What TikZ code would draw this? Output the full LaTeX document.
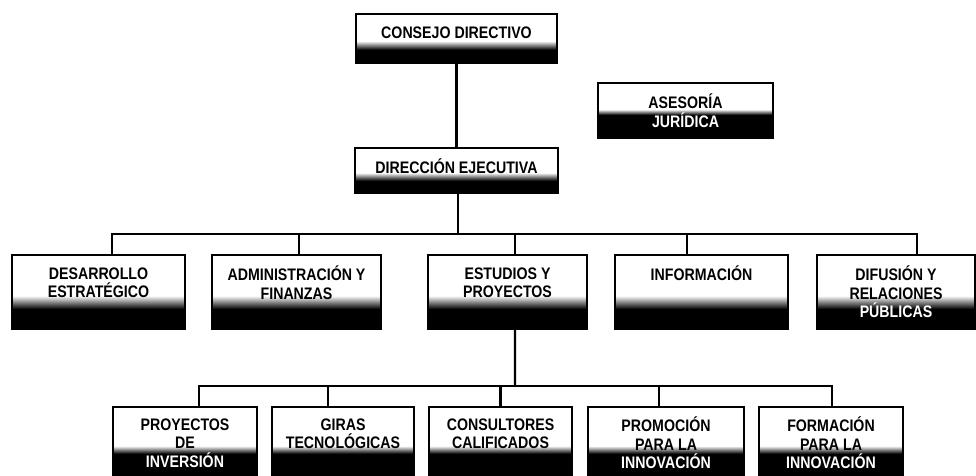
\documentclass[tikz,border=0pt]{standalone}
\usepackage{fontspec}
\setmainfont{Liberation Sans}[FakeStretch=0.85]
\usepackage{xcolor}
\usetikzlibrary{positioning,calc}
\pgfdeclareverticalshading{inkfill}{100bp}{color(0bp)=(black); color(38.5bp)=(black); color(47.5bp)=(white); color(100bp)=(white)}
\pgfdeclareverticalshading{inkhigh}{100bp}{color(0bp)=(black); color(46bp)=(black); color(51bp)=(white); color(100bp)=(white)}
\pgfdeclareverticalshading{inkmid}{100bp}{color(0bp)=(black); color(42.5bp)=(black); color(48bp)=(white); color(100bp)=(white)}
\tikzset{orgbox/.style={draw, line width=1.1pt, shade, shading=inkfill, align=center, inner sep=0pt,
  font=\fontsize{9.5}{10.5}\selectfont\bfseries},
  highbox/.style={orgbox, shading=inkhigh},
  unitbox/.style={orgbox, shading=inkmid, minimum height=1.44cm},
  link/.style={line width=1.2pt}}

\begin{document}
\begin{tikzpicture}[x=0.02cm, y=-0.02cm]
\path[use as bounding box, clip] (0,0) rectangle (976,476);
\node[orgbox, minimum width=4.02cm, minimum height=0.98cm, text depth=0.25cm] (consejo) at (456.5,38.5) {CONSEJO DIRECTIVO};
\node[highbox, minimum width=3.50cm, minimum height=1.10cm] (asesoria) at (685.5,110.5) {ASESORÍA\\\textcolor{white}{JURÍDICA}};
\node[orgbox, minimum width=4.06cm, minimum height=0.90cm, text depth=0.17cm] (direccion) at (456.5,170.5) {DIRECCIÓN EJECUTIVA};
\node[orgbox, minimum width=3.46cm, minimum height=1.48cm] (desarrollo) at (98.5,292) {DESARROLLO\\ESTRATÉGICO\\~};
\node[orgbox, minimum width=3.38cm, minimum height=1.48cm] (admin) at (296.5,292) {ADMINISTRACIÓN Y\\FINANZAS\\~};
\node[orgbox, minimum width=3.18cm, minimum height=1.48cm] (estudios) at (507.5,292) {ESTUDIOS Y\\PROYECTOS\\~};
\node[orgbox, minimum width=3.46cm, minimum height=1.48cm] (info) at (701.5,292) {INFORMACIÓN\\~\\~};
\node[orgbox, minimum width=3.16cm, minimum height=1.48cm] (difusion) at (896,292) {DIFUSIÓN Y\\RELACIONES\\\textcolor{white}{PÚBLICAS}};
\node[unitbox, minimum width=2.88cm] (proyectos) at (185,443) {PROYECTOS\\DE\\\textcolor{white}{INVERSIÓN}};
\node[unitbox, minimum width=2.84cm] (giras) at (343,443) {GIRAS\\TECNOLÓGICAS\\~};
\node[unitbox, minimum width=2.86cm] (consultores) at (500.5,443) {CONSULTORES\\CALIFICADOS\\~};
\node[unitbox, minimum width=3.12cm] (promocion) at (666,443) {PROMOCIÓN\\PARA LA\\\textcolor{white}{INNOVACIÓN}};
\node[unitbox, minimum width=2.88cm] (formacion) at (831,443) {FORMACIÓN\\PARA LA\\\textcolor{white}{INNOVACIÓN}};
\coordinate (bus2) at (458,234);
\coordinate (bus3) at (515,386);
\draw[link] (consejo) -- (direccion);
\draw[link] (direccion.south -| bus2) -- (bus2);
\draw[link] ($(desarrollo.north)+(13.5,0)$) |- (bus2);
\draw[link] ($(admin.north)+(2.5,0)$) |- (bus2);
\draw[link] ($(estudios.north)+(7.5,0)$) |- (bus2);
\draw[link] ($(info.north)+(-14.5,0)$) |- (bus2);
\draw[link] ($(difusion.north)+(21,0)$) |- (bus2);
\draw[link] ($(estudios.south)+(7.5,0)$) -- (bus3);
\draw[link] ($(proyectos.north)+(14,0)$) |- (bus3);
\draw[link] ($(giras.north)+(-15,0)$) |- (bus3);
\draw[link] (consultores.north) |- (bus3);
\draw[link] ($(promocion.north)+(-7,0)$) |- (bus3);
\draw[link] ($(formacion.north)+(1,0)$) |- (bus3);
\end{tikzpicture}
\end{document}
